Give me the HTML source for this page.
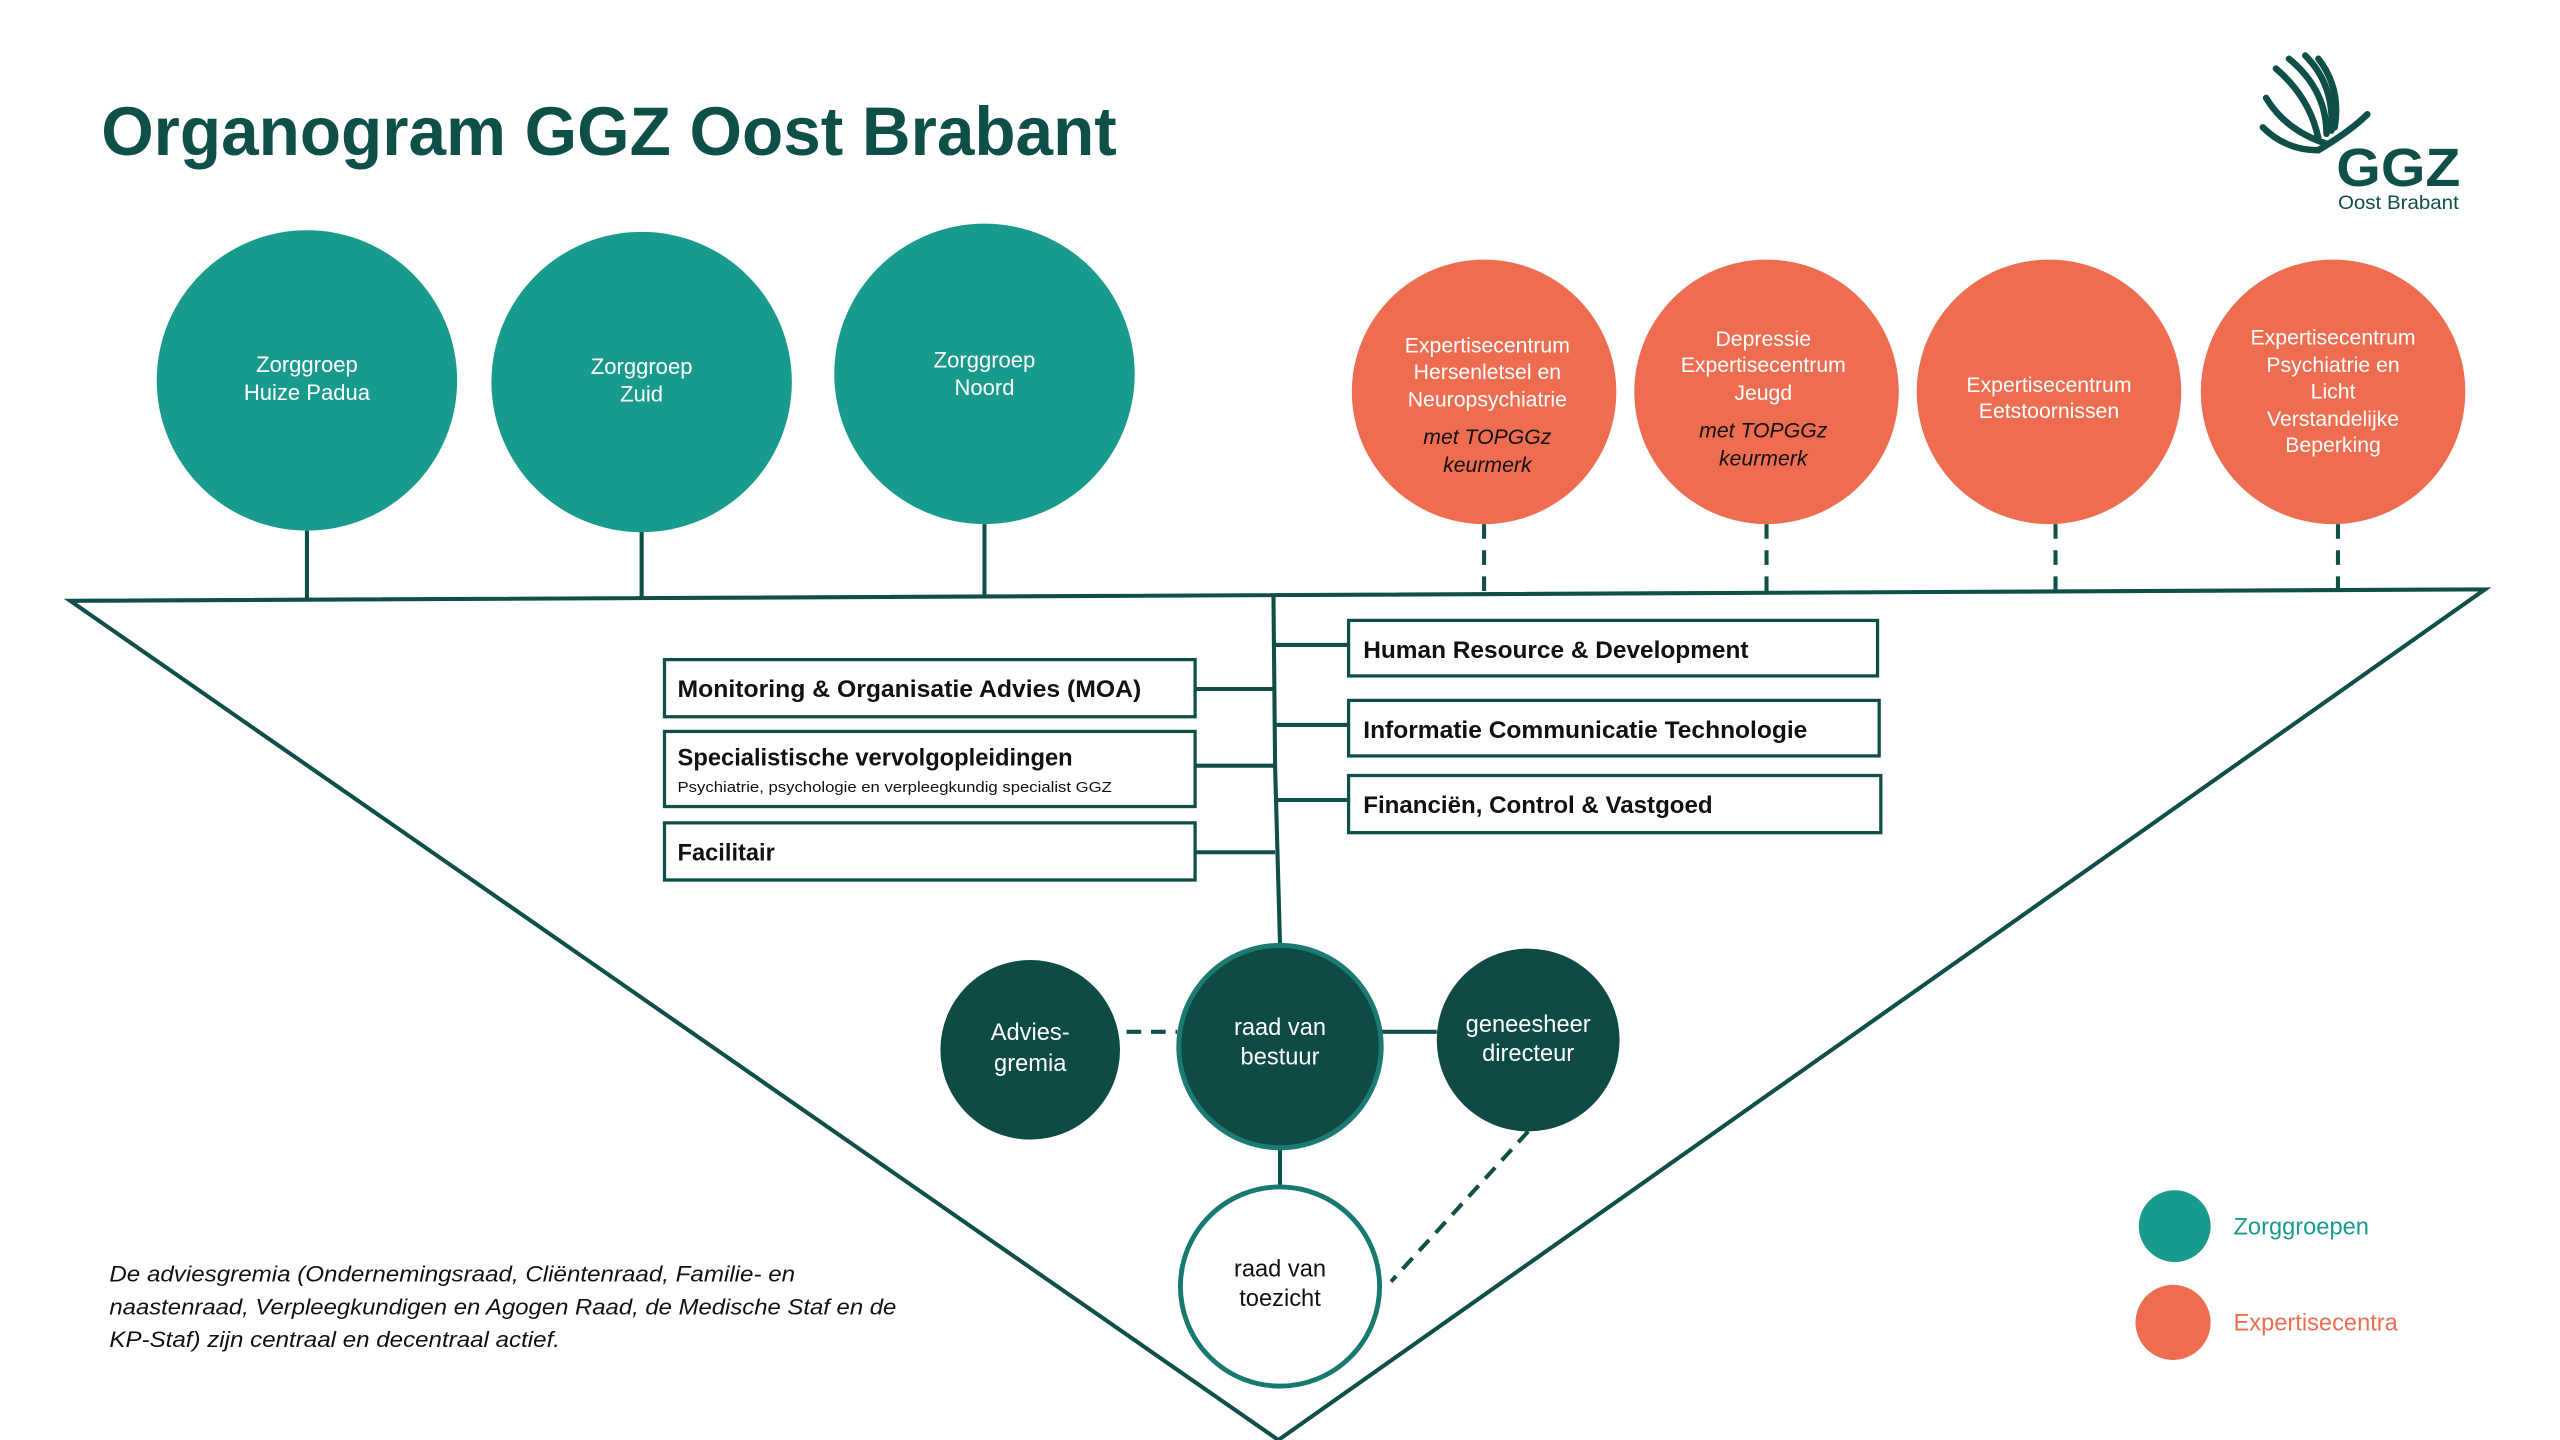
<!DOCTYPE html>
<html><head><meta charset="utf-8"><style>
html,body{margin:0;padding:0;background:#fff;width:2560px;height:1440px;overflow:hidden}
svg{display:block}
text{font-family:"Liberation Sans",sans-serif}
</style></head><body>
<svg width="2560" height="1440" viewBox="0 0 1568 882" preserveAspectRatio="none" xmlns="http://www.w3.org/2000/svg">
<rect width="1568" height="882" fill="#fff"/>
<text x="62" y="95" font-size="42" font-weight="bold" fill="#0e4f47" textLength="622" lengthAdjust="spacingAndGlyphs">Organogram GGZ Oost Brabant</text>
<!-- logo -->
<g fill="none" stroke="#0e4f47" stroke-width="4" stroke-linecap="round">
<path d="M1394 42 Q1415 60 1420 85"/>
<path d="M1402 36 Q1425 55 1425 82"/>
<path d="M1412 34 Q1430 52 1428 80"/>
<path d="M1420 36 Q1434 54 1430 78"/>
<path d="M1388 60 Q1400 80 1425 88"/>
<path d="M1386 78 Q1400 92 1420 92 Q1440 80 1450 70"/>
</g>
<text x="1431" y="114" font-size="33" font-weight="bold" fill="#0e4f47" textLength="76" lengthAdjust="spacingAndGlyphs">GGZ</text>
<text x="1432" y="128" font-size="12" fill="#0e4f47" textLength="74" lengthAdjust="spacingAndGlyphs">Oost Brabant</text>
<!-- connectors top -->
<g stroke="#0e4f47" stroke-width="2.5">
<line x1="188" y1="325" x2="188" y2="368"/>
<line x1="393" y1="325" x2="393" y2="367"/>
<line x1="603" y1="321" x2="603" y2="366"/>
</g>
<g stroke="#0e4f47" stroke-width="2.5" stroke-dasharray="9 7">
<line x1="909" y1="321" x2="909" y2="363"/>
<line x1="1082" y1="321" x2="1082" y2="363"/>
<line x1="1259" y1="321" x2="1259" y2="362"/>
<line x1="1432" y1="321" x2="1432" y2="362"/>
</g>
<!-- triangle -->
<polygon points="43,368 1522,361 783,882" fill="none" stroke="#0e4f47" stroke-width="2.5"/>
<!-- teal circles -->
<g fill="#189b8c"><circle cx="188" cy="233" r="92"/><circle cx="393" cy="234" r="92"/><circle cx="603" cy="229" r="92"/></g>
<g fill="#fff" font-size="13.5" text-anchor="middle">
<text x="188" y="228">Zorggroep</text><text x="188" y="245">Huize Padua</text>
<text x="393" y="229">Zorggroep</text><text x="393" y="246">Zuid</text>
<text x="603" y="225">Zorggroep</text><text x="603" y="242">Noord</text>
</g>
<!-- orange circles -->
<g fill="#ee6c50"><circle cx="909" cy="240" r="81"/><circle cx="1082" cy="240" r="81"/><circle cx="1255" cy="240" r="81"/><circle cx="1429" cy="240" r="81"/></g>
<g fill="#fff" font-size="13" text-anchor="middle">
<text x="911" y="216">Expertisecentrum</text><text x="911" y="232">Hersenletsel en</text><text x="911" y="249">Neuropsychiatrie</text>
<text x="1080" y="212">Depressie</text><text x="1080" y="228">Expertisecentrum</text><text x="1080" y="245">Jeugd</text>
<text x="1255" y="240">Expertisecentrum</text><text x="1255" y="256">Eetstoornissen</text>
<text x="1429" y="211">Expertisecentrum</text><text x="1429" y="228">Psychiatrie en</text><text x="1429" y="244">Licht</text><text x="1429" y="261">Verstandelijke</text><text x="1429" y="277">Beperking</text>
</g>
<g fill="#111" font-size="13" font-style="italic" text-anchor="middle">
<text x="911" y="272">met TOPGGz</text><text x="911" y="289">keurmerk</text>
<text x="1080" y="268">met TOPGGz</text><text x="1080" y="285">keurmerk</text>
</g>
<!-- central line & branches -->
<g stroke="#0e4f47" stroke-width="2.5">
<polyline points="780,365 781,470 784,578" fill="none"/>
<line x1="732" y1="422" x2="780" y2="422"/>
<line x1="732" y1="469" x2="780" y2="469"/>
<line x1="732" y1="522" x2="781" y2="522"/>
<line x1="780" y1="395" x2="826" y2="395"/>
<line x1="781" y1="444" x2="826" y2="444"/>
<line x1="781" y1="490" x2="826" y2="490"/>
</g>
<g fill="#fff" stroke="#0e4f47" stroke-width="2">
<rect x="407" y="404" width="325" height="35"/>
<rect x="407" y="448" width="325" height="46"/>
<rect x="407" y="504" width="325" height="35"/>
<rect x="826" y="380" width="324" height="34"/>
<rect x="826" y="429" width="325" height="34"/>
<rect x="826" y="475" width="326" height="35"/>
</g>
<g fill="#111" font-size="14.5" font-weight="bold">
<text x="415" y="427" textLength="284" lengthAdjust="spacingAndGlyphs">Monitoring &amp; Organisatie Advies (MOA)</text>
<text x="415" y="469" textLength="242" lengthAdjust="spacingAndGlyphs">Specialistische vervolgopleidingen</text>
<text x="415" y="527">Facilitair</text>
<text x="835" y="403" textLength="236" lengthAdjust="spacingAndGlyphs">Human Resource &amp; Development</text>
<text x="835" y="452" textLength="272" lengthAdjust="spacingAndGlyphs">Informatie Communicatie Technologie</text>
<text x="835" y="498" textLength="214" lengthAdjust="spacingAndGlyphs">Financiën, Control &amp; Vastgoed</text>
</g>
<text x="415" y="485" font-size="9" fill="#111" textLength="266" lengthAdjust="spacingAndGlyphs">Psychiatrie, psychologie en verpleegkundig specialist GGZ</text>
<!-- bottom connectors -->
<line x1="690" y1="632" x2="721" y2="632" stroke="#0e4f47" stroke-width="2.5" stroke-dasharray="9 6"/>
<line x1="846" y1="632" x2="880" y2="632" stroke="#0e4f47" stroke-width="2.5"/>
<line x1="784" y1="704" x2="784" y2="726" stroke="#0e4f47" stroke-width="2.5"/>
<line x1="936" y1="693" x2="852" y2="785" stroke="#0e4f47" stroke-width="2.5" stroke-dasharray="9 6"/>
<circle cx="631" cy="643" r="55" fill="#0e4b45"/>
<circle cx="784" cy="641" r="62" fill="#0e4b45" stroke="#1b7b70" stroke-width="3"/>
<circle cx="936" cy="637" r="56" fill="#0e4b45"/>
<circle cx="784" cy="788" r="61" fill="#fff" stroke="#187a6e" stroke-width="3"/>
<g font-size="14.5" text-anchor="middle">
<text x="631" y="637" fill="#fff">Advies-</text><text x="631" y="656" fill="#fff">gremia</text>
<text x="784" y="634" fill="#fff">raad van</text><text x="784" y="652" fill="#fff">bestuur</text>
<text x="936" y="632" fill="#fff">geneesheer</text><text x="936" y="650" fill="#fff">directeur</text>
<text x="784" y="782" fill="#111">raad van</text><text x="784" y="800" fill="#111">toezicht</text>
</g>
<!-- legend -->
<circle cx="1332" cy="751" r="22" fill="#189b8c"/>
<circle cx="1331" cy="810" r="23" fill="#ee6c50"/>
<text x="1368" y="756" font-size="14.5" fill="#189b8c">Zorggroepen</text>
<text x="1368" y="815" font-size="14.5" fill="#ee6c50">Expertisecentra</text>
<!-- note -->
<g font-size="13.5" font-style="italic" fill="#111">
<text x="67" y="785" textLength="420" lengthAdjust="spacingAndGlyphs">De adviesgremia (Ondernemingsraad, Cliëntenraad, Familie- en</text>
<text x="67" y="805" textLength="482" lengthAdjust="spacingAndGlyphs">naastenraad, Verpleegkundigen en Agogen Raad, de Medische Staf en de</text>
<text x="67" y="825" textLength="276" lengthAdjust="spacingAndGlyphs">KP-Staf) zijn centraal en decentraal actief.</text>
</g>
</svg>
</body></html>
